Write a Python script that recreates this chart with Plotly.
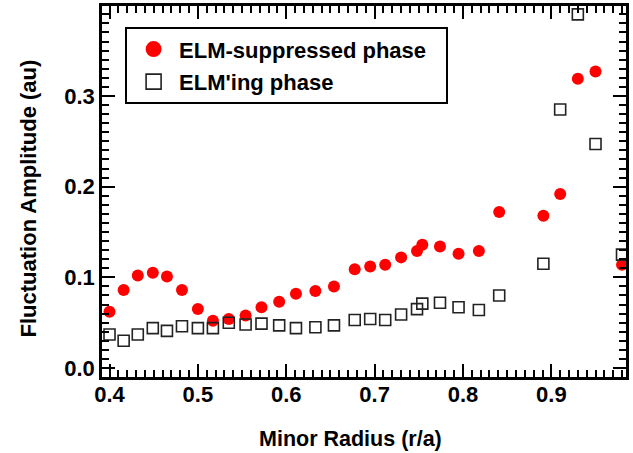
import plotly.graph_objects as go

radius = [0.400, 0.416, 0.432, 0.449, 0.465, 0.482, 0.500, 0.517, 0.535, 0.554,
          0.572, 0.592, 0.611, 0.633, 0.654, 0.6775, 0.695, 0.712, 0.730, 0.748,
          0.754, 0.774, 0.795, 0.818, 0.841, 0.891, 0.910, 0.930, 0.950, 0.980]

elm_suppressed = [0.062, 0.086, 0.102, 0.105, 0.101, 0.086, 0.065, 0.052, 0.054, 0.058,
                  0.067, 0.073, 0.082, 0.085, 0.090, 0.109, 0.112, 0.114, 0.122, 0.129,
                  0.136, 0.134, 0.126, 0.129, 0.172, 0.168, 0.192, 0.319, 0.327, 0.114]

elming = [0.037, 0.030, 0.037, 0.044, 0.041, 0.046, 0.044, 0.044, 0.050, 0.048,
          0.049, 0.047, 0.044, 0.045, 0.047, 0.053, 0.054, 0.053, 0.059, 0.065,
          0.071, 0.072, 0.067, 0.064, 0.080, 0.115, 0.285, 0.390, 0.247, 0.125]

x_ticks = [0.4, 0.5, 0.6, 0.7, 0.8, 0.9]
x_tick_labels = ["0.4", "0.5", "0.6", "0.7", "0.8", "0.9"]
y_ticks = [0.0, 0.1, 0.2, 0.3]
y_tick_labels = ["0.0", "0.1", "0.2", "0.3"]
x_title = "Minor Radius (r/a)"
y_title = "Fluctuation Amplitude (au)"

FONT = "Liberation Sans, Arial, Helvetica, sans-serif"
X_RANGE = [0.3915, 0.9845]
Y_RANGE = [-0.0099, 0.3992]

fig = go.Figure()
# data traces
fig.add_trace(go.Scatter(
    x=radius, y=elm_suppressed, mode="markers", name="ELM-suppressed phase",
    showlegend=False, cliponaxis=False,
    marker=dict(symbol="circle", size=12, color="#ff0000", line=dict(width=0)),
))
fig.add_trace(go.Scatter(
    x=radius, y=elming, mode="markers", name="ELM'ing phase",
    showlegend=False, cliponaxis=False,
    marker=dict(symbol="square-open", size=11, color="#222222", line=dict(width=1.6, color="#222222")),
))
# legend entries (larger symbols, as in the reference legend)
fig.add_trace(go.Scatter(
    x=[None], y=[None], mode="markers", name="ELM-suppressed phase", legendgroup="a",
    marker=dict(symbol="circle", size=16, color="#ff0000", line=dict(width=0)),
))
fig.add_trace(go.Scatter(
    x=[None], y=[None], mode="markers", name="ELM'ing phase", legendgroup="b",
    marker=dict(symbol="square-open", size=15, color="#222222", line=dict(width=1.6, color="#222222")),
))
# helper trace so the mirrored (top/right) axes with minor ticks get drawn
fig.add_trace(go.Scatter(
    x=[radius[0]], y=[elming[0]], xaxis="x2", yaxis="y2", mode="markers",
    marker=dict(opacity=0), showlegend=False, hoverinfo="skip",
))

tick_common = dict(
    ticks="inside", ticklen=13, tickwidth=2, tickcolor="black",
    showgrid=False, zeroline=False, automargin=False,
)
minor_common = dict(ticks="inside", dtick=0.01, tick0=0.0, ticklen=7, tickwidth=2,
                    tickcolor="black", showgrid=False)

fig.update_layout(
    xaxis=dict(
        range=X_RANGE, tickvals=x_ticks, ticktext=x_tick_labels,
        showline=True, linecolor="black", linewidth=2.5,
        minor=minor_common, ticklabelstandoff=-4,
        tickfont=dict(family=FONT, size=22, color="black", weight="bold"),
        **tick_common,
    ),
    yaxis=dict(
        range=Y_RANGE, tickvals=y_ticks, ticktext=y_tick_labels,
        showline=True, linecolor="black", linewidth=2.5,
        minor=minor_common,
        tickfont=dict(family=FONT, size=22, color="black", weight="bold"),
        **tick_common,
    ),
    xaxis2=dict(
        range=X_RANGE, tickvals=x_ticks, overlaying="x", side="top", anchor="y",
        showline=True, linecolor="black", linewidth=2.5, showticklabels=False,
        minor=minor_common, **tick_common,
    ),
    yaxis2=dict(
        range=Y_RANGE, tickvals=y_ticks, overlaying="y", side="right", anchor="x",
        showline=True, linecolor="black", linewidth=2.5, showticklabels=False,
        minor=minor_common, **tick_common,
    ),
    width=633, height=453,
    margin=dict(l=102, r=7, t=6, b=76, autoexpand=False),
    paper_bgcolor="white", plot_bgcolor="white",
    showlegend=True,
    legend=dict(
        x=0.0498, y=0.94, xanchor="left", yanchor="top",
        bgcolor="rgba(0,0,0,0)", borderwidth=0,
        font=dict(family=FONT, size=22, color="black", weight="bold"),
        traceorder="grouped", tracegroupgap=1, itemwidth=41,
    ),
    shapes=[dict(
        type="rect", xref="paper", yref="paper",
        x0=0.0458, x1=0.6584, y0=0.7385, y1=0.9407,
        line=dict(color="black", width=2), fillcolor="white", layer="above",
    )],
    annotations=[
        dict(text=x_title, xref="paper", yref="paper", x=0.4746, y=-0.167,
             xanchor="center", yanchor="middle", showarrow=False,
             font=dict(family=FONT, size=21.5, color="black", weight="bold")),
        dict(text=y_title, xref="paper", yref="paper", x=-0.1384, y=0.4825,
             xanchor="center", yanchor="middle", showarrow=False, textangle=-90,
             font=dict(family=FONT, size=22, color="black", weight="bold")),
    ],
)

fig.write_html("out.html", config={"displayModeBar": False},
               post_script="document.body.style.margin='0';")
